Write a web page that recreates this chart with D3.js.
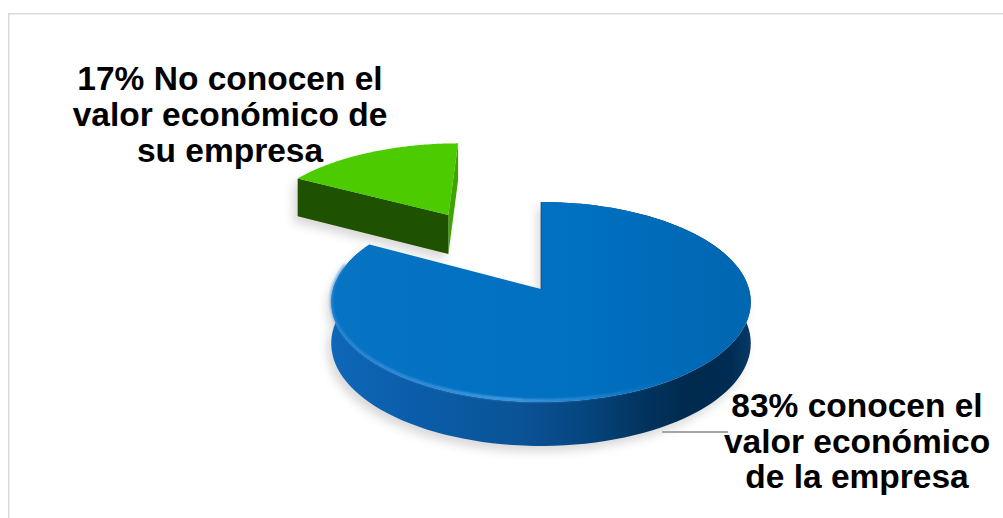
<!DOCTYPE html>
<html lang="es">
<head>
<meta charset="utf-8">
<script src="https://cdn.jsdelivr.net/npm/d3@7"></script>
<style>
  html, body { margin: 0; padding: 0; background: #ffffff; }
  svg { display: block; }
  .lbl { font-family: "Liberation Sans", Arial, sans-serif; font-weight: bold; font-size: 33.5px; fill: #000; }
</style>
</head>
<body>
<svg id="chart" width="1003" height="518"></svg>
<script>
// Survey shares, in pie order (clockwise from 12 o'clock)
const categories = ["Conocen el valor económico", "No conocen el valor económico"];
const shares = [83, 17];
const labelLines = [
  ["83% conocen el", "valor económico", "de la empresa"],
  ["17% No conocen el", "valor económico de", "su empresa"]
];

// Look of each slice
const topColors  = ["#0070c0", "#4ccc00"];
const cutColors  = ["#0a4f8c", "#1f5200"];
const edgeColors = ["#0a4f8c", "#3fa300"];
const explode    = [0, 0.97];           // pull-out distance, in radii

// Tilted-disc projection with a bit of perspective
const view = { x0: 541, y0: 289, ax: 208, by: 98.3, k: 0.13, depth: 41 };
function project(u, v, down) {
  const w = 1 + view.k * v;
  return [view.x0 + view.ax * u / w,
          view.y0 - view.by * v / w + (down ? view.depth / Math.sqrt(w) : 0)];
}

const svg = d3.select("#chart");
const defs = svg.append("defs");

// chart frame
svg.append("rect")
  .attr("x", 8.75).attr("y", 13.75)
  .attr("width", 1010).attr("height", 520)
  .attr("fill", "none").attr("stroke", "#d9d9d9").attr("stroke-width", 1.5);

// side shading of the large slice
const sideGrad = defs.append("linearGradient")
  .attr("id", "sideGrad").attr("gradientUnits", "userSpaceOnUse")
  .attr("x1", 330).attr("x2", 752).attr("y1", 0).attr("y2", 0);
[[0, "#0f67b8"], [0.18, "#0b5eab"], [0.45, "#0a5396"], [0.6, "#064680"],
 [0.74, "#02345f"], [0.85, "#002a4e"], [0.95, "#002c53"], [1, "#083a68"]]
  .forEach(([o, c]) => sideGrad.append("stop").attr("offset", o).attr("stop-color", c));

const topGrad = defs.append("linearGradient")
  .attr("id", "topGrad").attr("gradientUnits", "userSpaceOnUse")
  .attr("x1", 330).attr("x2", 752).attr("y1", 0).attr("y2", 0);
[[0, "#0773c3"], [0.6, "#0070c0"], [1, "#0066b0"]]
  .forEach(([o, c]) => topGrad.append("stop").attr("offset", o).attr("stop-color", c));

const rimGrad = defs.append("linearGradient")
  .attr("id", "rimGrad").attr("gradientUnits", "userSpaceOnUse")
  .attr("x1", 330).attr("x2", 700).attr("y1", 0).attr("y2", 0);
[[0, "#3a90df", 0.7], [0.5, "#5aaaf2", 0.95], [0.75, "#3f95e0", 0.5], [1, "#0070c0", 0]]
  .forEach(([o, c, a]) => rimGrad.append("stop").attr("offset", o).attr("stop-color", c).attr("stop-opacity", a));

const blur = defs.append("filter").attr("id", "shadowBlur")
  .attr("x", "-20%").attr("y", "-20%").attr("width", "140%").attr("height", "140%");
blur.append("feGaussianBlur").attr("stdDeviation", 5);
const soft = defs.append("filter").attr("id", "soft");
soft.append("feGaussianBlur").attr("stdDeviation", 0.8);

const arcs = d3.pie().sort(null).value(d => d).startAngle(0).endAngle(2 * Math.PI)(shares);
const line = d3.line();

// geometry for each slice
const slices = arcs.map((a, i) => {
  const mid = (a.startAngle + a.endAngle) / 2;
  const ou = explode[i] * Math.sin(mid), ov = explode[i] * Math.cos(mid);
  const pt = (t, r, down) => project(ou + r * Math.sin(t), ov + r * Math.cos(t), down);
  const ts = d3.range(0, 121).map(j => a.startAngle + (a.endAngle - a.startAngle) * j / 120);
  const topArc = ts.map(t => pt(t, 1, false));
  const botArc = ts.map(t => pt(t, 1, true));
  const apex = pt(0, 0, false), apexLow = pt(0, 0, true);
  return {
    i, a, pt, ts, topArc, botArc, apex, apexLow,
    top: [apex, ...topArc],
    side: [...topArc, ...botArc.slice().reverse()],
    cutStart: [apex, topArc[0], botArc[0], apexLow],
    cutEnd: [apex, topArc[topArc.length - 1], botArc[botArc.length - 1], apexLow]
  };
});

// soft drop shadow beneath the pieces
const shadow = svg.append("g")
  .attr("transform", "translate(-4,6)")
  .attr("filter", "url(#shadowBlur)")
  .attr("opacity", 0.32);
slices.forEach(s => {
  [s.top, s.side, s.cutStart, s.cutEnd].forEach(p =>
    shadow.append("path").attr("d", line(p) + "Z").attr("fill", "#8a8a8a"));
});

// back slice first, front slice last
const order = slices.slice().sort((p, q) => p.apex[1] - q.apex[1]);
const pieG = svg.append("g");
order.forEach(s => {
  const g = pieG.append("g").attr("class", "slice-" + s.i);
  if (explode[s.i] > 0) {
    // pulled-out wedge: both cut faces show, outer wall is hidden behind
    g.append("path").attr("d", line(s.cutEnd) + "Z").attr("fill", edgeColors[s.i]);
    g.append("path").attr("d", line(s.cutStart) + "Z").attr("fill", cutColors[s.i]);
    g.append("path").attr("d", line(s.top) + "Z").attr("fill", topColors[s.i]);
  } else {
    g.append("path").attr("d", line(s.side) + "Z").attr("fill", "url(#sideGrad)");
    g.append("path").attr("d", line(s.cutStart) + "Z").attr("fill", cutColors[s.i]);
    g.append("path").attr("d", line(s.top) + "Z").attr("fill", "url(#topGrad)");
    // bevel highlight along the front rim
    const rimTs = s.ts.filter(t => t > Math.PI * 0.82 && t < Math.PI * 1.58);
    g.append("path")
      .attr("d", line(rimTs.map(t => { const p = s.pt(t, 1, false); return [p[0], p[1] - 1.5]; })))
      .attr("fill", "none").attr("stroke", "url(#rimGrad)").attr("stroke-width", 2.5)
      .attr("filter", "url(#soft)");
    // thin dark seam on the vertical cut edge
    g.append("path").attr("d", line([s.apex, s.topArc[0]]))
      .attr("stroke", "#0a3f70").attr("stroke-width", 1).attr("opacity", 0.7);
  }
});

// leader line for the large slice
svg.append("line")
  .attr("x1", 662).attr("x2", 728).attr("y1", 432).attr("y2", 432)
  .attr("stroke", "#a6a6a6").attr("stroke-width", 2);

// data labels
const labelPos = [{ x: 857, y: 417, dy: 35.5 }, { x: 230, y: 90, dy: 36 }];
labelLines.forEach((lines, i) => {
  const t = svg.append("text").attr("class", "lbl").attr("text-anchor", "middle");
  lines.forEach((s, j) => t.append("tspan")
    .attr("x", labelPos[i].x).attr("y", labelPos[i].y + j * labelPos[i].dy).text(s));
});
</script>
</body>
</html>
